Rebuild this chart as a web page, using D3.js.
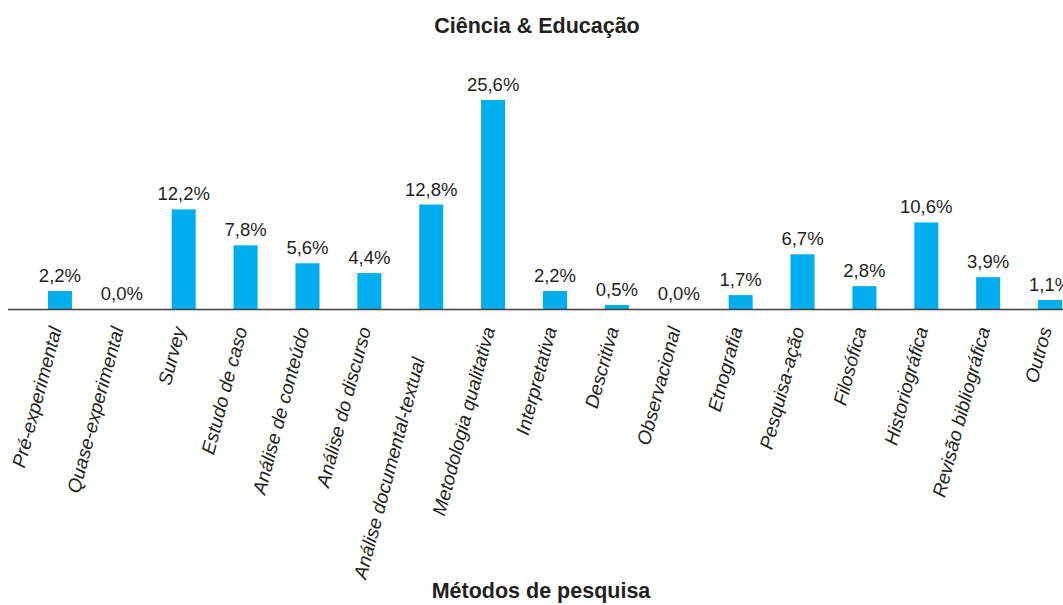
<!DOCTYPE html>
<html>
<head>
<meta charset="utf-8">
<script src="https://cdn.jsdelivr.net/npm/d3@7"></script>
<style>
  body { margin: 0; background: #fff; }
  svg { display: block; font-family: "Liberation Sans", Arial, sans-serif; }
</style>
</head>
<body>
<div id="chart"></div>
<script>
// trailing spaces on the documental-textual label kept from the source sheet
var categories = ["Pré-experimental", "Quase-experimental", "Survey", "Estudo de caso",
    "Análise de conteúdo", "Análise do discurso", "Análise documental-textual\u00a0\u00a0\u00a0\u00a0\u00a0\u00a0",
    "Metodologia qualitativa", "Interpretativa", "Descritiva", "Observacional",
    "Etnografia", "Pesquisa-ação", "Filosófica", "Historiográfica",
    "Revisão bibliográfica", "Outros"];
var values = [2.2, 0.0, 12.2, 7.8, 5.6, 4.4, 12.8, 25.6, 2.2, 0.5, 0.0, 1.7, 6.7, 2.8, 10.6, 3.9, 1.1];
var chartTitle = "Ciência & Educação";
var axisTitle = "Métodos de pesquisa";

var width = 1063, height = 605;
var baseY = 309;

var svg = d3.select("#chart")
    .append("svg")
    .attr("width", width)
    .attr("height", height);

var x = d3.scaleBand()
    .domain(categories)
    .range([29, 1081])
    .paddingInner(0.612)
    .paddingOuter(0.306);

var y = d3.scaleLinear()
    .domain([0, 25.6])
    .range([baseY, 100]);

var fmt = function (v) { return v.toFixed(1).replace(".", ",") + "%"; };

// title
svg.append("text")
    .attr("x", 537)
    .attr("y", 33)
    .attr("text-anchor", "middle")
    .style("font-size", "21.5px")
    .style("font-weight", "bold")
    .style("fill", "#231f20")
    .text(chartTitle);

// bars
svg.append("g")
    .selectAll("rect")
    .data(values)
    .enter().append("rect")
    .attr("x", function (d, i) { return x(categories[i]); })
    .attr("y", function (d) { return y(d); })
    .attr("width", x.bandwidth())
    .attr("height", function (d) { return baseY - y(d); })
    .attr("fill", "#00aeef");

// value labels
svg.append("g")
    .selectAll("text")
    .data(values)
    .enter().append("text")
    .attr("x", function (d, i) { return x(categories[i]) + x.bandwidth() / 2; })
    .attr("y", function (d) { return y(d) - 9; })
    .attr("text-anchor", "middle")
    .style("font-size", "18.5px")
    .style("fill", "#231f20")
    .text(fmt);

// baseline
svg.append("line")
    .attr("x1", 8)
    .attr("x2", width)
    .attr("y1", baseY + 0.5)
    .attr("y2", baseY + 0.5)
    .attr("stroke", "#404040")
    .attr("stroke-width", 1.3);

// category labels, rotated
svg.append("g")
    .selectAll("text")
    .data(categories)
    .enter().append("text")
    .attr("transform", function (d) {
        var cx = x(d) + x.bandwidth() / 2 + 2;
        return "translate(" + cx + "," + (baseY + 20) + ") rotate(-75)";
    })
    .attr("text-anchor", "end")
    .attr("xml:space", "preserve")
    .style("font-size", "19px")
    .style("font-style", "italic")
    .style("fill", "#231f20")
    .text(function (d) { return d; });

// axis title
svg.append("text")
    .attr("x", 541)
    .attr("y", 598)
    .attr("text-anchor", "middle")
    .style("font-size", "21.5px")
    .style("font-weight", "bold")
    .style("fill", "#231f20")
    .text(axisTitle);
</script>
</body>
</html>
